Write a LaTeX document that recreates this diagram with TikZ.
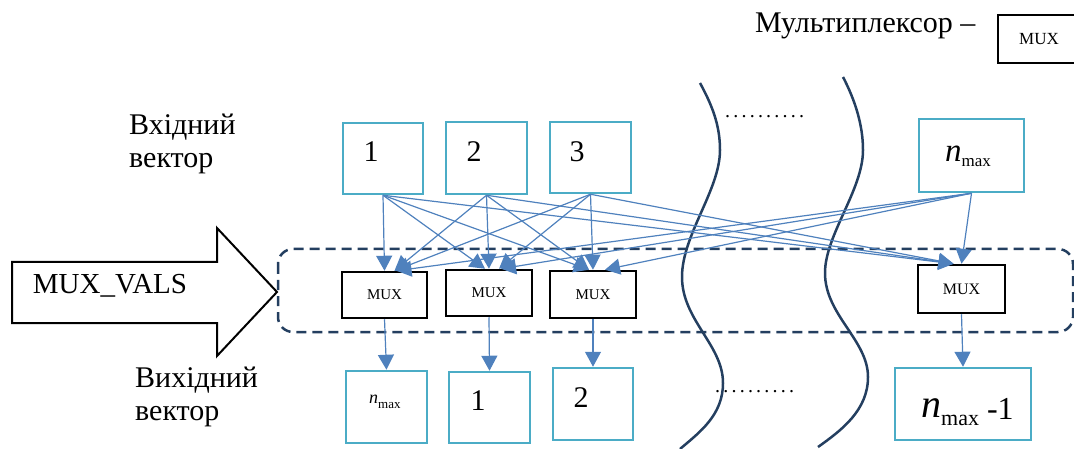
\documentclass[tikz,border=0pt]{standalone}
\usepackage{fontspec}
\setmainfont{Liberation Serif}
\usetikzlibrary{arrows.meta,calc}
\definecolor{boxteal}{HTML}{4BACC6}
\definecolor{connc}{HTML}{4F81BD}
\definecolor{navyc}{HTML}{243F60}
\newcommand{\onedot}{.\hspace{3.2pt}}
\tikzset{
  inbox/.style={draw=boxteal, line width=2.5pt, inner sep=0pt},
  muxbox/.style={draw=black, line width=2.5pt, inner sep=0pt, font=\fontsize{15}{15}\selectfont},
  link/.style={draw=connc, line width=1.2pt, -{Triangle[width=16pt,length=15pt]}},
  wave/.style={draw=navyc, line width=2.5pt},
  big/.style={font=\fontsize{30}{33}\selectfont, inner sep=0pt},
  dotrow/.style={font=\fontsize{20}{20}\selectfont, inner sep=0pt, anchor=base west}
}
\begin{document}
\begin{tikzpicture}[x=1pt,y=-1pt]
\useasboundingbox (0,0) rectangle (1074,449);

% legend
\node[big, anchor=base west, font=\fontsize{30}{30}\selectfont] (legtxt) at (755,33) {Мультиплексор –};
\node[muxbox, minimum width=90pt, minimum height=48pt, font=\fontsize{17}{17}\selectfont] (leg) at (1043,39) {\hspace*{-4pt}MUX\hspace*{4pt}};

% side labels
\node[big, anchor=base west, align=left] (inlbl) at (129,168) {Вхідний\\вектор};
\node[big, anchor=base west, align=left] (outlbl) at (135,420) {Вихідний\\вектор};

% big arrow
\draw[line width=2pt, line join=miter] (12,262) -- (217,262) -- (217,228) -- (277,292) -- (217,356) -- (217,323) -- (12,323) -- cycle;
\node[big, anchor=base, font=\fontsize{29}{29}\selectfont] (mv) at (110,294) {MUX\_VALS};

% dashed frame
\draw[navyc, line width=2.5pt, dash pattern=on 10pt off 6pt, rounded corners=15pt] (278,249) rectangle (1073,332);

% wavy lines
\draw[wave] (700,83) .. controls (712,105) and (720,125) .. (720,150)
  .. controls (720,190) and (682,235) .. (682,277)
  .. controls (682,320) and (723,345) .. (723,383)
  .. controls (723,415) and (700,432) .. (680,449);
\draw[wave] (843,77) .. controls (855,100) and (863,125) .. (863,150)
  .. controls (863,190) and (825,235) .. (825,273)
  .. controls (825,315) and (868,340) .. (868,377)
  .. controls (868,410) and (842,430) .. (818,447);

% dots
\node[dotrow] (dtop) at (725,118) {\onedot\onedot\onedot\onedot\onedot\onedot\onedot\onedot\onedot.};
\node[dotrow] (dbot) at (715,392) {\onedot\onedot\onedot\onedot\onedot\onedot\onedot\onedot\onedot.};

% input boxes
\node[inbox, minimum width=80pt, minimum height=71pt] (b1) at (383,158.5) {};
\node[inbox, minimum width=81pt, minimum height=72pt] (b2) at (486.5,158) {};
\node[inbox, minimum width=81pt, minimum height=71pt] (b3) at (590.5,157.5) {};
\node[inbox, minimum width=105pt, minimum height=73pt] (bn) at (971.5,155.5) {};
\node[big, anchor=base] (t1) at (371,162) {1};
\node[big, anchor=base] (t2) at (474,162) {2};
\node[big, anchor=base] (t3) at (577,162) {3};
\node[inner sep=0pt, anchor=base west] (tn) at (945,162) {\fontsize{33}{33}\selectfont\itshape n\raisebox{-5pt}{\fontsize{17}{17}\selectfont\upshape max}};

% mux boxes
\node[muxbox, minimum width=85pt, minimum height=46pt] (m1) at (384.5,295) {MUX};
\node[muxbox, minimum width=86pt, minimum height=46pt] (m2) at (489,293) {MUX};
\node[muxbox, minimum width=86pt, minimum height=47pt] (m3) at (593,294.5) {MUX};
\node[muxbox, minimum width=87pt, minimum height=48pt, font=\fontsize{16}{16}\selectfont] (mn) at (961.5,289) {MUX};

% output boxes
\node[inbox, minimum width=81pt, minimum height=72pt] (o1) at (386.5,407) {};
\node[inbox, minimum width=81pt, minimum height=71pt] (o2) at (489.5,407.5) {};
\node[inbox, minimum width=80pt, minimum height=72pt] (o3) at (593,404) {};
\node[inbox, minimum width=136pt, minimum height=72pt] (on) at (963,404) {};
\node[inner sep=0pt, anchor=base west] (u1) at (369,403) {\fontsize{18}{18}\selectfont\itshape n\raisebox{-5pt}{\fontsize{13}{13}\selectfont\upshape max}};
\node[big, anchor=base] (u2) at (478,410) {1};
\node[big, anchor=base] (u3) at (581,407) {2};
\node[inner sep=0pt, anchor=base west] (un) at (921,417) {\fontsize{40}{40}\selectfont\itshape n\raisebox{-8pt}{\fontsize{22}{22}\selectfont\upshape max}\raisebox{-2pt}{\fontsize{32}{32}\selectfont\upshape\ -1}};

% connectors inputs -> muxes
\foreach \s/\t/\d in {b1/m1/0, b1/m2/-4, b1/m3/-4, b1/mn/-8,
                      b2/m1/10, b2/m2/0, b2/m3/-4, b2/mn/-8,
                      b3/m1/10, b3/m2/10, b3/m3/0, b3/mn/-8,
                      bn/m1/12, bn/m2/12, bn/m3/12, bn/mn/0}
  \draw[link] (\s.south) -- ($(\t.north)+(\d,0)$);

% connectors muxes -> outputs
\draw[link] (m1.south) -- (o1.north);
\draw[link] (m2.south) -- (o2.north);
\draw[link] (m3.south) -- (o3.north);
\draw[link] (mn.south) -- (on.north);
\end{tikzpicture}
\end{document}
